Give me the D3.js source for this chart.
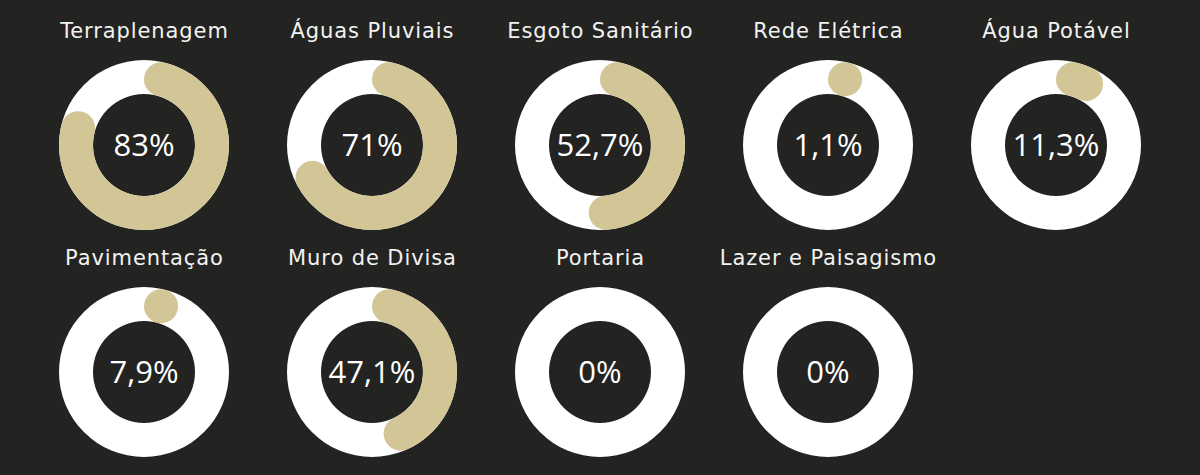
<!DOCTYPE html>
<html>
<head>
<meta charset="utf-8">
<script src="https://cdn.jsdelivr.net/npm/d3@7"></script>
<style>
    html, body { margin: 0; padding: 0; background: #232321; }
    #progress-area { width: 1200px; height: 475px; }
</style>
</head>
<body>
<div id="progress-area"></div>
<script>

// Obra progress per stage (percent complete)
const stages = ["Terraplenagem", "Águas Pluviais", "Esgoto Sanitário", "Rede Elétrica", "Água Potável",
                "Pavimentação", "Muro de Divisa", "Portaria", "Lazer e Paisagismo"];
const progress = [83, 71, 52.7, 1.1, 11.3, 7.9, 47.1, 0, 0];

/*
* Progress Donut Grid
*/
class ProgressGrid {

    constructor(parentElement, names, values) {
        this.parentElement = parentElement;
        this.names = names;
        this.values = values;
        this.initVis();
    }

    initVis() {
        let vis = this;

        vis.width = 1200;
        vis.height = 475;
        vis.cols = 5;

        vis.outerR = 85;
        vis.innerR = 51;
        vis.cornerR = (vis.outerR - vis.innerR) / 2;

        vis.svg = d3.select("#" + vis.parentElement).append("svg")
            .attr("width", vis.width)
            .attr("height", vis.height);

        // column / row placement
        vis.x = d3.scalePoint().domain(d3.range(vis.cols)).range([144, 1056]);
        vis.y = d3.scalePoint().domain([0, 1]).range([145, 372]);

        // percent -> angle, clockwise from the top
        vis.angle = d3.scaleLinear().domain([0, 100]).range([0, 2 * Math.PI]);

        // smallest arc that still shows a full round cap
        vis.minAngle = 2 * Math.asin(vis.cornerR / (vis.outerR - vis.cornerR)) + 0.002;

        let locale = d3.formatLocale({decimal: ",", thousands: ".", grouping: [3], currency: ["R$", ""]});
        vis.fmt = locale.format(".1~f");

        vis.wrangleData();
    }

    wrangleData() {
        let vis = this;
        vis.displayData = vis.names.map((name, i) => ({
            name: name,
            value: vis.values[i],
            col: i % vis.cols,
            row: Math.floor(i / vis.cols)
        }));
        vis.updateVis();
    }

    updateVis() {
        let vis = this;

        let track = d3.arc()
            .innerRadius(vis.innerR)
            .outerRadius(vis.outerR)
            .startAngle(0)
            .endAngle(2 * Math.PI);

        let bar = d3.arc()
            .innerRadius(vis.innerR)
            .outerRadius(vis.outerR)
            .cornerRadius(vis.cornerR)
            .startAngle(0)
            .endAngle(d => Math.max(vis.angle(d.value), vis.minAngle));

        let cells = vis.svg.selectAll(".cell")
            .data(vis.displayData)
            .join("g")
            .attr("class", "cell")
            .attr("transform", d => `translate(${vis.x(d.col)},${vis.y(d.row)})`);

        // title above each donut
        cells.append("text")
            .attr("x", 0.45)
            .attr("y", -107)
            .attr("text-anchor", "middle")
            .attr("fill", "#f2f2f0")
            .style("font-family", "'DejaVu Sans', sans-serif")
            .style("font-size", "21px")
            .style("letter-spacing", "0.9px")
            .text(d => d.name);

        cells.append("path")
            .attr("d", track())
            .attr("fill", "#ffffff");

        cells.filter(d => d.value > 0)
            .append("path")
            .attr("d", bar)
            .attr("fill", "#d2c697");

        // centre label
        cells.append("text")
            .attr("y", 11)
            .attr("text-anchor", "middle")
            .attr("fill", "#ffffff")
            .style("font-family", "'Open Sans', sans-serif")
            .style("font-size", "31px")
            .text(d => vis.fmt(d.value) + "%");
    }
}

new ProgressGrid("progress-area", stages, progress);

</script>
</body>
</html>
